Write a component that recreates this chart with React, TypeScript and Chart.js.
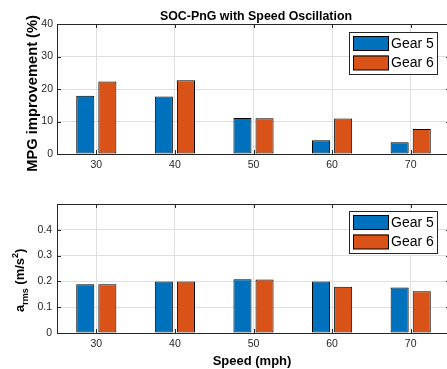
import React, { useEffect, useRef } from 'react';
import { Chart, registerables } from 'chart.js';

Chart.register(...registerables);

const speeds = ['30', '40', '50', '60', '70'];
const seriesNames = ['Gear 5', 'Gear 6'];
const mpgGear5 = [17.9, 17.7, 11.1, 4.2, 3.6];
const mpgGear6 = [22.3, 22.7, 11.0, 10.9, 7.7];
const armsGear5 = [0.189, 0.2, 0.208, 0.2, 0.176];
const armsGear6 = [0.189, 0.2, 0.207, 0.179, 0.162];
const mpgTicks = [0, 10, 20, 30, 40];
const armsTicks = [0, 0.1, 0.2, 0.3, 0.4];

const FONT = "'Liberation Sans', Arial, Helvetica, sans-serif";
const BLUE = '#0072BD';
const ORANGE = '#D95319';
const AXIS = '#262626';
const GRID = '#dfdfdf';

function makeDecor(opts: {
  legendTop: number;
  draw: (ctx: CanvasRenderingContext2D) => void;
}) {
  return {
    id: 'decor',
    afterDraw(chart: any) {
      const ctx: CanvasRenderingContext2D = chart.ctx;
      const { left, right, top, bottom } = chart.chartArea;
      const xs = chart.scales.x;
      const ys = chart.scales.y;
      ctx.save();
      ctx.strokeStyle = AXIS;
      ctx.lineWidth = 1;
      ctx.strokeRect(left + 0.5, top + 0.5, right - left, bottom - top);
      const tl = 4;
      ctx.beginPath();
      for (let i = 0; i < xs.ticks.length; i++) {
        const px = Math.round(xs.getPixelForTick(i)) + 0.5;
        ctx.moveTo(px, bottom);
        ctx.lineTo(px, bottom - tl);
        ctx.moveTo(px, top);
        ctx.lineTo(px, top + tl);
      }
      ys.ticks.forEach((t: any) => {
        const py = Math.round(ys.getPixelForValue(t.value)) + 0.5;
        ctx.moveTo(left, py);
        ctx.lineTo(left + tl, py);
        ctx.moveTo(right, py);
        ctx.lineTo(right - tl, py);
      });
      ctx.stroke();

      // legend
      const lx = 349;
      const ly = opts.legendTop;
      ctx.fillStyle = '#fff';
      ctx.fillRect(lx, ly, 88, 42);
      ctx.strokeStyle = AXIS;
      ctx.strokeRect(lx + 0.5, ly + 0.5, 88, 42);
      const colors = [BLUE, ORANGE];
      ctx.font = `14px ${FONT}`;
      ctx.textBaseline = 'middle';
      ctx.textAlign = 'left';
      seriesNames.forEach((name, i) => {
        const py = ly + 4 + i * 19.5;
        ctx.fillStyle = colors[i];
        ctx.fillRect(353, py, 35, 14.5);
        ctx.strokeStyle = '#000';
        ctx.strokeRect(353.5, py + 0.5, 35, 14);
        ctx.fillStyle = '#000';
        ctx.fillText(name, 391, py + 7.8);
      });
      opts.draw(ctx);
      ctx.restore();
    },
  };
}

function baseOptions(yMin: number, yMax: number, step: number, tickList: number[], xAxisHeight: number, padTop: number, yPad: number) {
  return {
    responsive: false,
    animation: false as const,
    devicePixelRatio: 1,
    layout: { padding: { top: padTop, right: 10, left: 0, bottom: 0 } },
    plugins: { legend: { display: false }, tooltip: { enabled: false }, title: { display: false } },
    scales: {
      x: {
        type: 'category' as const,
        offset: true,
        grid: { offset: false, color: GRID, drawTicks: false, lineWidth: 1 },
        border: { display: false },
        ticks: { color: AXIS, font: { family: FONT, size: 10.5 }, padding: 5, maxRotation: 0 },
        afterFit: (s: any) => {
          s.height = xAxisHeight;
        },
      },
      y: {
        min: yMin,
        max: yMax,
        grid: { color: GRID, drawTicks: false, lineWidth: 1 },
        border: { display: false },
        ticks: {
          stepSize: step,
          color: AXIS,
          font: { family: FONT, size: 10.5 },
          padding: yPad,
          callback: (v: any) => {
            const n = Number(v);
            const found = tickList.find((t) => Math.abs(t - n) < 1e-9);
            if (found === undefined) return '';
            return String(found);
          },
        },
        afterFit: (s: any) => {
          s.width = 57;
        },
      },
    },
  };
}

function datasets(a: number[], b: number[]) {
  const common = {
    borderColor: '#000',
    borderWidth: 1,
    borderSkipped: false as const,
    categoryPercentage: 0.562,
    barPercentage: 0.818,
  };
  return [
    { label: seriesNames[0], data: a, backgroundColor: BLUE, ...common },
    { label: seriesNames[1], data: b, backgroundColor: ORANGE, ...common },
  ];
}

export default function App() {
  const c1 = useRef<HTMLCanvasElement>(null);
  const c2 = useRef<HTMLCanvasElement>(null);

  useEffect(() => {
    const topChart = new Chart(c1.current!, {
      type: 'bar',
      data: { labels: speeds, datasets: datasets(mpgGear5, mpgGear6) as any },
      options: baseOptions(0, 40, 10, mpgTicks, 31, 24, 4) as any,
      plugins: [
        makeDecor({
          legendTop: 32,
          draw: (ctx) => {
            ctx.fillStyle = '#000';
            ctx.textAlign = 'center';
            ctx.textBaseline = 'alphabetic';
            ctx.font = `bold 12.4px ${FONT}`;
            ctx.fillText('SOC-PnG with Speed Oscillation', 256, 20);
            ctx.save();
            ctx.translate(36.5, 93.4);
            ctx.rotate(-Math.PI / 2);
            ctx.font = `bold 14.7px ${FONT}`;
            ctx.fillText('MPG improvement (%)', 0, 0);
            ctx.restore();
          },
        }) as any,
      ],
    });

    const bottomChart = new Chart(c2.current!, {
      type: 'bar',
      data: { labels: speeds, datasets: datasets(armsGear5, armsGear6) as any },
      options: baseOptions(0, 0.5, 0.1, armsTicks, 36, 19, 5) as any,
      plugins: [
        makeDecor({
          legendTop: 26,
          draw: (ctx) => {
            ctx.fillStyle = '#000';
            ctx.textBaseline = 'alphabetic';
            ctx.textAlign = 'center';
            ctx.font = `bold 13px ${FONT}`;
            ctx.fillText('Speed (mph)', 252, 180);
            ctx.save();
            ctx.translate(23.5, 127);
            ctx.rotate(-Math.PI / 2);
            ctx.textAlign = 'left';
            const parts: [string, number, number][] = [
              ['a', 13, 0],
              ['rms', 9, 4],
              [' (m/s', 13, 0],
              ['2', 9, -5.5],
              [')', 13, 0],
            ];
            let x = 0;
            parts.forEach(([t, size, dy]) => {
              ctx.font = `bold ${size}px ${FONT}`;
              ctx.fillText(t, x, dy);
              x += ctx.measureText(t).width;
            });
            ctx.restore();
          },
        }) as any,
      ],
    });

    return () => {
      topChart.destroy();
      bottomChart.destroy();
    };
  }, []);

  return (
    <div
      style={{
        position: 'fixed',
        left: 0,
        top: 0,
        width: 447,
        height: 369,
        overflow: 'hidden',
        background: '#fff',
      }}
    >
      <canvas ref={c1} width={460} height={185} style={{ position: 'absolute', left: 0, top: 0, width: 460, height: 185 }} />
      <canvas ref={c2} width={460} height={184} style={{ position: 'absolute', left: 0, top: 185, width: 460, height: 184 }} />
    </div>
  );
}
